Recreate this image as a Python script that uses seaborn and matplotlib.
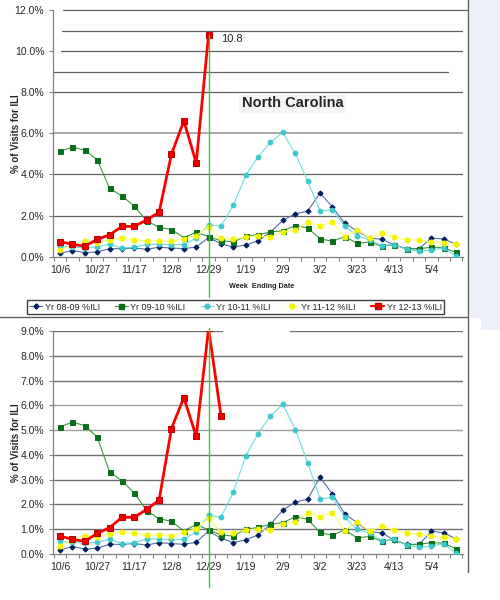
import matplotlib.pyplot as plt
import seaborn as sns
import numpy as np
from matplotlib.lines import Line2D
from matplotlib.patches import Rectangle

sns.set_theme(style='white')
plt.rcParams['font.family'] = ['Liberation Sans', 'DejaVu Sans']

weeks = ['10/6', '10/13', '10/20', '10/27', '11/3', '11/10', '11/17', '11/24',
         '12/1', '12/8', '12/15', '12/22', '12/29', '1/5', '1/12', '1/19', '1/26',
         '2/2', '2/9', '2/16', '2/23', '3/2', '3/9', '3/16', '3/23', '3/30',
         '4/6', '4/13', '4/20', '4/27', '5/4', '5/11', '5/18']

yr_0809 = [0.16, 0.30, 0.20, 0.23, 0.39, 0.39, 0.42, 0.36, 0.46, 0.42, 0.39, 0.47, 0.93,
           0.63, 0.46, 0.57, 0.77, 1.20, 1.77, 2.09, 2.21, 3.10, 2.42, 1.62, 1.26, 0.90,
           0.85, 0.56, 0.39, 0.39, 0.91, 0.86, 0.60]
yr_0910 = [5.13, 5.32, 5.18, 4.72, 3.32, 2.95, 2.46, 1.75, 1.42, 1.32, 0.93, 1.19, 0.97,
           0.77, 0.72, 1.00, 1.07, 1.20, 1.26, 1.51, 1.40, 0.87, 0.75, 0.98, 0.65, 0.71,
           0.51, 0.59, 0.37, 0.39, 0.46, 0.43, 0.21]
yr_1011 = [0.51, 0.47, 0.43, 0.47, 0.60, 0.42, 0.46, 0.60, 0.60, 0.59, 0.59, 0.90, 1.56,
           1.48, 2.50, 3.96, 4.86, 5.57, 6.04, 5.02, 3.69, 2.23, 2.28, 1.48, 1.00, 0.83,
           0.54, 0.59, 0.36, 0.27, 0.32, 0.42, 0.02]
yr_1112 = [0.32, 0.56, 0.74, 0.67, 0.82, 0.90, 0.83, 0.77, 0.78, 0.74, 0.87, 1.02, 1.44,
           0.89, 0.86, 0.97, 1.00, 0.95, 1.22, 1.30, 1.67, 1.51, 1.67, 0.94, 1.31, 0.91,
           1.14, 0.95, 0.83, 0.80, 0.72, 0.68, 0.62]
# 12-13 season, two versions of the report
yr_1213_top = [0.73, 0.60, 0.51, 0.84, 1.06, 1.47, 1.47, 1.79, 2.16, 4.98, 6.61, 4.56, 10.8]
yr_1213_bottom = [0.72, 0.59, 0.51, 0.83, 1.06, 1.48, 1.48, 1.80, 2.17, 5.06, 6.31, 4.75,
                  9.1, 5.58]

season_labels = ['Yr 08-09 %ILI', 'Yr 09-10 %ILI', 'Yr 10-11 %ILI', 'Yr 11-12 %ILI',
                 'Yr 12-13 %ILI']

styles = [
    dict(color='#5470a8', marker='D', markersize=2.6, markerfacecolor='#001a5c',
         markeredgecolor='#001a5c', linewidth=0.8),
    dict(color='#3c9a3c', marker='s', markersize=3.6, markerfacecolor='#0b6e1a',
         markeredgecolor='#0b6e1a', linewidth=0.8),
    dict(color='#70dede', marker='o', markersize=3.4, markerfacecolor='#3cc8cc',
         markeredgecolor='#3cc8cc', linewidth=0.8),
    dict(color='#ffff66', marker='o', markersize=3.6, markerfacecolor='#f4f400',
         markeredgecolor='#f4f400', linewidth=0.8),
    dict(color='#ff0000', marker='s', markersize=4.6, markerfacecolor='#ee0000',
         markeredgecolor='#c00000', linewidth=2.0),
]

x = np.arange(len(weeks))


def draw_panel(ax, red_vals, ymax, ystep):
    for vals, st in zip([yr_0809, yr_0910, yr_1011, yr_1112], styles[:4]):
        sns.lineplot(x=x, y=vals, ax=ax, zorder=3, **st)
    sns.lineplot(x=x[:len(red_vals)], y=red_vals, ax=ax, zorder=4, **styles[4])
    if ax.get_legend():
        ax.get_legend().remove()

    ax.set_xlim(-0.6, 32.55)
    ax.set_ylim(0, ymax)
    ax.set_xticks(x[::3])
    ax.set_xticklabels(weeks[::3], fontsize=7.5)
    ax.set_xticks(np.arange(-0.5, 33, 1), minor=True)
    ax.tick_params(axis='x', which='major', length=0, pad=6)
    ax.tick_params(axis='x', which='minor', length=3, width=0.8, color='#808080',
                   direction='out', bottom=True)
    ax.set_yticks(np.arange(0, ymax + 0.01, ystep))
    ax.set_yticklabels([f'{v:.1f}%' for v in np.arange(0, ymax + 0.01, ystep)],
                       fontsize=7.5)
    ax.tick_params(axis='y', length=3, width=0.8, color='#808080', direction='out',
                   left=True, pad=3)
    for s in ['top', 'right']:
        ax.spines[s].set_visible(False)
    for s in ['left', 'bottom']:
        ax.spines[s].set_color('#808080')
        ax.spines[s].set_linewidth(0.9)
    ax.set_xlabel('')
    ax.set_ylabel('% of Visits for ILI', fontsize=7, fontweight='bold', labelpad=6)
    ax.set_facecolor('white')


fig = plt.figure(figsize=(5, 6), dpi=100)
fig.patch.set_facecolor('white')

# pale side strip of the original screenshot
fig.patches.append(Rectangle((470 / 500, 1 - 318 / 600), 30 / 500, 318 / 600,
                             transform=fig.transFigure, facecolor='#eef0f9',
                             edgecolor='none', zorder=0))
fig.patches.append(Rectangle((481 / 500, 1 - 330 / 600), 19 / 500, 12 / 600,
                             transform=fig.transFigure, facecolor='#eef0f9',
                             edgecolor='none', zorder=0))

ax1 = fig.add_axes([0.1052, 0.5722, 0.8208, 0.4112])
ax2 = fig.add_axes([0.1052, 0.0767, 0.8208, 0.3717])

# top panel
grid = '#606060'
for v in [2, 4, 8]:
    ax1.axhline(v, color=grid, lw=0.9, zorder=1)
ax1.axhline(6, color='#a8a8a8', lw=1.4, zorder=1)
ax1.axhline(9, xmax=0.963, color=grid, lw=0.9, zorder=1)
ax1.axhline(10, xmin=0.02, color=grid, lw=0.9, zorder=1)
ax1.axhline(11, xmin=0.023, color=grid, lw=0.9, zorder=1)
ax1.axhline(12, xmin=0.025, xmax=1.013, color=grid, lw=0.9, zorder=1, clip_on=False)
draw_panel(ax1, yr_1213_top, 12, 2)
ax1.axvline(12, ymin=-0.163, ymax=10.8 / 12, color='#33cc33', lw=1.0, zorder=6,
            clip_on=False)
ax1.annotate('10.8', xy=(12, yr_1213_top[-1]), xytext=(9, -3.5), textcoords='offset points',
             fontsize=8, va='center', ha='left')
ax1.text(0.585, 0.621, 'North Carolina', transform=ax1.transAxes, fontsize=10.5,
         fontweight='bold', ha='center', va='center',
         bbox=dict(boxstyle='square,pad=0.2', facecolor='#f5f5f5', edgecolor='none'))
fig.text(262 / 500, 1 - 286 / 600, 'Week  Ending Date', fontsize=5.2, fontweight='bold',
         ha='center', va='center', color='#222222')
ax1.yaxis.set_label_coords(-0.078, 0.5)

# bottom panel
for v in range(1, 9):
    c = '#a0a0a0' if v in (5, 6) else '#707070'
    ax2.axhline(v, color=c, lw=1.0, zorder=1)
ax2.axhline(9, xmax=0.413, color='#707070', lw=1.0, zorder=1)
ax2.axhline(9, xmin=0.578, color='#707070', lw=1.0, zorder=1)
draw_panel(ax2, yr_1213_bottom, 9, 1)
ax2.axvline(12, ymin=-0.148, ymax=9.1 / 9, color='#33cc33', lw=1.0, zorder=6,
            clip_on=False)
ax2.annotate('9.1', xy=(12, yr_1213_bottom[12]), xytext=(10, -1.5), textcoords='offset points',
             fontsize=8, va='center', ha='left')
ax2.yaxis.set_label_coords(-0.078, 0.5)

# legend for the top panel
handles = [Line2D([], [], **st) for st in styles]
handles[4].set_linewidth(1.6)
handles[4].set_markersize(3.8)
fig.legend(handles, season_labels, loc='center', bbox_to_anchor=(235.5 / 500, 1 - 307 / 600),
           ncol=5, fontsize=6.5, frameon=True, fancybox=False, edgecolor='#404040',
           framealpha=1, handlelength=1.4, handletextpad=0.3, columnspacing=1.7,
           borderpad=0.25)

# screenshot frame lines
fig.add_artist(Line2D([0, 468 / 500], [1 - 317 / 600, 1 - 317 / 600],
                      transform=fig.transFigure, color='#606060', lw=1))
fig.add_artist(Line2D([468 / 500, 468 / 500], [1, 1 - 572 / 600],
                      transform=fig.transFigure, color='#606060', lw=1))

fig.savefig('out.png', dpi=100, facecolor='white')
